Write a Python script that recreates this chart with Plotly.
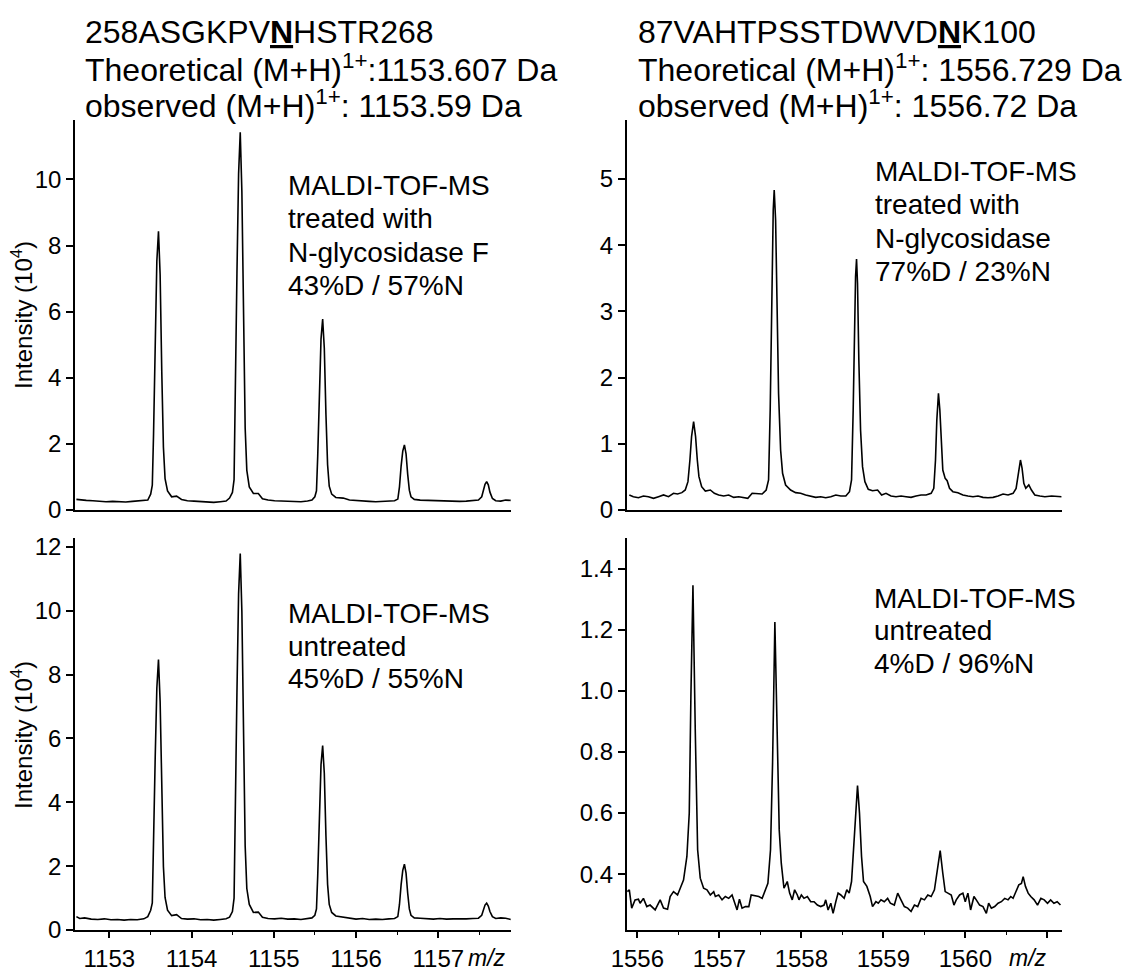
import plotly.graph_objects as go

W, H = 1133, 972
FONT = "Liberation Sans, Arial, Helvetica, sans-serif"

# ---------------- data (m/z, intensity in 10^4) ----------------
# Peptide 258ASGKPVNHSTR268, treated with N-glycosidase F
tl_spectrum = [
    (1152.600, 0.32), (1152.650, 0.30), (1152.720, 0.29), (1152.800, 0.28), (1152.880, 0.26),
    (1152.960, 0.25), (1153.040, 0.26), (1153.120, 0.25), (1153.200, 0.24), (1153.280, 0.26),
    (1153.360, 0.27), (1153.420, 0.28),
    (1153.468, 0.30), (1153.503, 0.48), (1153.523, 0.75), (1153.538, 2.30), (1153.558, 5.32),
    (1153.578, 7.53), (1153.598, 8.43), (1153.618, 7.12), (1153.638, 4.18), (1153.658, 1.90),
    (1153.678, 0.95), (1153.708, 0.58), (1153.758, 0.40), (1153.818, 0.42), (1153.878, 0.32),
    (1153.950, 0.28), (1154.030, 0.27), (1154.110, 0.25), (1154.190, 0.24), (1154.270, 0.23),
    (1154.350, 0.25), (1154.420, 0.27),
    (1154.462, 0.36), (1154.497, 0.53), (1154.517, 0.92), (1154.532, 3.04), (1154.552, 7.16),
    (1154.572, 10.17), (1154.592, 11.43), (1154.612, 9.62), (1154.632, 5.60), (1154.652, 2.48),
    (1154.672, 1.20), (1154.702, 0.70), (1154.752, 0.50), (1154.812, 0.50), (1154.862, 0.34),
    (1154.930, 0.30), (1155.010, 0.28), (1155.090, 0.27), (1155.170, 0.25), (1155.250, 0.24),
    (1155.330, 0.25), (1155.410, 0.27),
    (1155.464, 0.30), (1155.499, 0.40), (1155.519, 0.58), (1155.534, 1.63), (1155.554, 3.67),
    (1155.574, 5.17), (1155.594, 5.78), (1155.614, 4.90), (1155.634, 2.90), (1155.654, 1.37),
    (1155.674, 0.72), (1155.704, 0.48), (1155.754, 0.38), (1155.844, 0.36),
    (1155.920, 0.30), (1156.000, 0.28), (1156.080, 0.27), (1156.160, 0.26), (1156.240, 0.25),
    (1156.320, 0.26), (1156.400, 0.27),
    (1156.468, 0.28), (1156.508, 0.33), (1156.528, 0.70), (1156.548, 1.33), (1156.568, 1.78),
    (1156.588, 1.97), (1156.608, 1.70), (1156.628, 1.08), (1156.648, 0.60), (1156.668, 0.40),
    (1156.708, 0.32),
    (1156.780, 0.30), (1156.860, 0.29), (1156.940, 0.28), (1157.020, 0.27), (1157.100, 0.28),
    (1157.180, 0.27), (1157.260, 0.26), (1157.340, 0.27), (1157.420, 0.28),
    (1157.488, 0.30), (1157.528, 0.40), (1157.548, 0.58), (1157.568, 0.78), (1157.588, 0.86),
    (1157.608, 0.76), (1157.628, 0.54), (1157.658, 0.35), (1157.698, 0.28),
    (1157.760, 0.27), (1157.820, 0.30), (1157.880, 0.29),
]

# Peptide 258ASGKPVNHSTR268, untreated
bl_spectrum = [
    (1152.600, 0.42), (1152.640, 0.36), (1152.700, 0.38), (1152.780, 0.34), (1152.860, 0.33),
    (1152.940, 0.35), (1153.020, 0.32), (1153.100, 0.33), (1153.180, 0.31), (1153.260, 0.33),
    (1153.340, 0.32), (1153.420, 0.35),
    (1153.468, 0.42), (1153.503, 0.62), (1153.523, 0.85), (1153.538, 2.40), (1153.558, 5.38),
    (1153.578, 7.58), (1153.598, 8.47), (1153.618, 7.16), (1153.638, 4.24), (1153.658, 1.98),
    (1153.678, 1.02), (1153.708, 0.62), (1153.758, 0.45), (1153.818, 0.48), (1153.878, 0.36),
    (1153.950, 0.34), (1154.030, 0.35), (1154.110, 0.32), (1154.190, 0.33), (1154.270, 0.31),
    (1154.350, 0.33), (1154.420, 0.35),
    (1154.462, 0.40), (1154.497, 0.58), (1154.517, 1.00), (1154.532, 3.20), (1154.552, 7.45),
    (1154.572, 10.53), (1154.592, 11.79), (1154.612, 9.96), (1154.632, 5.84), (1154.652, 2.63),
    (1154.672, 1.30), (1154.702, 0.80), (1154.752, 0.55), (1154.812, 0.56), (1154.862, 0.40),
    (1154.930, 0.36), (1155.010, 0.35), (1155.090, 0.37), (1155.170, 0.34), (1155.250, 0.35),
    (1155.330, 0.33), (1155.410, 0.35),
    (1155.464, 0.38), (1155.499, 0.46), (1155.519, 0.66), (1155.534, 1.70), (1155.554, 3.71),
    (1155.574, 5.18), (1155.594, 5.78), (1155.614, 4.91), (1155.634, 2.95), (1155.654, 1.43),
    (1155.674, 0.80), (1155.704, 0.55), (1155.754, 0.44), (1155.844, 0.40),
    (1155.920, 0.36), (1156.000, 0.34), (1156.080, 0.36), (1156.160, 0.33), (1156.240, 0.34),
    (1156.320, 0.33), (1156.400, 0.35),
    (1156.468, 0.36), (1156.508, 0.42), (1156.528, 0.80), (1156.548, 1.42), (1156.568, 1.87),
    (1156.588, 2.06), (1156.608, 1.78), (1156.628, 1.15), (1156.648, 0.66), (1156.668, 0.46),
    (1156.708, 0.38),
    (1156.780, 0.37), (1156.860, 0.35), (1156.940, 0.34), (1157.020, 0.36), (1157.100, 0.34),
    (1157.180, 0.35), (1157.260, 0.34), (1157.340, 0.35), (1157.420, 0.36),
    (1157.488, 0.37), (1157.528, 0.46), (1157.548, 0.62), (1157.568, 0.78), (1157.588, 0.84),
    (1157.608, 0.75), (1157.628, 0.58), (1157.658, 0.42), (1157.698, 0.36),
    (1157.760, 0.38), (1157.820, 0.37), (1157.880, 0.33),
]

# Peptide 87VAHTPSSTDWVDNK100, treated with N-glycosidase
tr_spectrum = [
    (1555.902, 0.227), (1555.951, 0.201), (1556.013, 0.186), (1556.074, 0.211), (1556.135, 0.201),
    (1556.197, 0.176), (1556.258, 0.201), (1556.319, 0.227), (1556.380, 0.201), (1556.441, 0.252),
    (1556.490, 0.242), (1556.543, 0.262), (1556.584, 0.302), (1556.617, 0.428), (1556.641, 0.755),
    (1556.661, 1.108), (1556.686, 1.334), (1556.710, 1.108), (1556.731, 0.755), (1556.751, 0.504),
    (1556.784, 0.352), (1556.829, 0.287), (1556.890, 0.302), (1556.939, 0.252), (1556.992, 0.227),
    (1557.053, 0.211), (1557.114, 0.227), (1557.175, 0.191), (1557.237, 0.201), (1557.298, 0.186),
    (1557.347, 0.176), (1557.400, 0.252), (1557.461, 0.242), (1557.522, 0.242), (1557.571, 0.302),
    (1557.600, 0.453), (1557.620, 1.511), (1557.641, 3.525), (1557.657, 4.532), (1557.669, 4.834),
    (1557.686, 4.381), (1557.702, 3.223), (1557.722, 1.762), (1557.747, 0.906), (1557.771, 0.554),
    (1557.808, 0.378), (1557.869, 0.302), (1557.930, 0.262), (1557.991, 0.252), (1558.052, 0.227),
    (1558.114, 0.211), (1558.175, 0.191), (1558.236, 0.201), (1558.297, 0.186), (1558.359, 0.201),
    (1558.420, 0.227), (1558.481, 0.211), (1558.542, 0.211), (1558.587, 0.277), (1558.612, 0.453),
    (1558.632, 1.511), (1558.648, 2.769), (1558.661, 3.525), (1558.673, 3.792), (1558.685, 3.424),
    (1558.701, 2.266), (1558.722, 1.208), (1558.746, 0.655), (1558.775, 0.428), (1558.816, 0.312),
    (1558.868, 0.292), (1558.930, 0.302), (1558.979, 0.227), (1559.032, 0.252), (1559.093, 0.211),
    (1559.154, 0.201), (1559.216, 0.211), (1559.277, 0.201), (1559.338, 0.191), (1559.399, 0.211),
    (1559.460, 0.227), (1559.521, 0.227), (1559.583, 0.252), (1559.615, 0.327), (1559.636, 0.755),
    (1559.652, 1.360), (1559.672, 1.762), (1559.689, 1.511), (1559.705, 1.007), (1559.725, 0.604),
    (1559.754, 0.478), (1559.778, 0.443), (1559.807, 0.327), (1559.848, 0.277), (1559.909, 0.262),
    (1559.970, 0.227), (1560.031, 0.211), (1560.093, 0.201), (1560.154, 0.211), (1560.215, 0.191),
    (1560.276, 0.186), (1560.338, 0.191), (1560.399, 0.211), (1560.460, 0.242), (1560.521, 0.227),
    (1560.582, 0.252), (1560.619, 0.327), (1560.643, 0.554), (1560.672, 0.755), (1560.692, 0.629),
    (1560.713, 0.403), (1560.737, 0.327), (1560.774, 0.378), (1560.806, 0.302), (1560.847, 0.227),
    (1560.909, 0.211), (1560.970, 0.201), (1561.052, 0.211), (1561.133, 0.201), (1561.174, 0.201),
]

# Peptide 87VAHTPSSTDWVDNK100, untreated
br_spectrum = [
    (1555.878, 0.343), (1555.902, 0.349), (1555.931, 0.289), (1555.972, 0.316), (1556.013, 0.318),
    (1556.033, 0.305), (1556.074, 0.321), (1556.115, 0.294), (1556.155, 0.299), (1556.217, 0.283),
    (1556.278, 0.316), (1556.319, 0.289), (1556.368, 0.285), (1556.400, 0.327), (1556.441, 0.343),
    (1556.490, 0.332), (1556.523, 0.354), (1556.563, 0.381), (1556.604, 0.458), (1556.633, 0.600),
    (1556.653, 0.983), (1556.678, 1.345), (1556.706, 0.873), (1556.735, 0.480), (1556.767, 0.387),
    (1556.808, 0.354), (1556.849, 0.349), (1556.890, 0.332), (1556.931, 0.343), (1556.951, 0.327),
    (1556.992, 0.332), (1557.033, 0.316), (1557.073, 0.327), (1557.114, 0.321), (1557.155, 0.332),
    (1557.184, 0.305), (1557.216, 0.283), (1557.245, 0.318), (1557.277, 0.289), (1557.318, 0.294),
    (1557.359, 0.294), (1557.388, 0.332), (1557.441, 0.329), (1557.481, 0.327), (1557.522, 0.321),
    (1557.563, 0.349), (1557.592, 0.370), (1557.624, 0.480), (1557.649, 0.764), (1557.677, 1.225),
    (1557.706, 0.873), (1557.730, 0.545), (1557.755, 0.436), (1557.788, 0.354), (1557.828, 0.376),
    (1557.857, 0.338), (1557.889, 0.316), (1557.918, 0.349), (1557.951, 0.332), (1557.971, 0.316),
    (1558.000, 0.332), (1558.032, 0.321), (1558.073, 0.327), (1558.114, 0.310), (1558.155, 0.310),
    (1558.195, 0.299), (1558.236, 0.294), (1558.277, 0.299), (1558.297, 0.316), (1558.326, 0.283),
    (1558.359, 0.305), (1558.387, 0.272), (1558.420, 0.310), (1558.448, 0.338), (1558.481, 0.332),
    (1558.522, 0.321), (1558.554, 0.349), (1558.583, 0.338), (1558.612, 0.376), (1558.636, 0.491),
    (1558.661, 0.600), (1558.685, 0.690), (1558.709, 0.600), (1558.734, 0.458), (1558.758, 0.376),
    (1558.799, 0.360), (1558.840, 0.327), (1558.868, 0.294), (1558.909, 0.310), (1558.938, 0.305),
    (1558.971, 0.316), (1559.011, 0.310), (1559.052, 0.321), (1559.085, 0.305), (1559.134, 0.299),
    (1559.175, 0.338), (1559.215, 0.316), (1559.256, 0.294), (1559.297, 0.289), (1559.338, 0.278),
    (1559.379, 0.299), (1559.419, 0.294), (1559.460, 0.321), (1559.501, 0.316), (1559.542, 0.332),
    (1559.583, 0.327), (1559.623, 0.349), (1559.656, 0.414), (1559.693, 0.477), (1559.725, 0.403),
    (1559.754, 0.343), (1559.787, 0.338), (1559.828, 0.332), (1559.861, 0.299), (1559.889, 0.316),
    (1559.930, 0.332), (1559.970, 0.338), (1559.999, 0.310), (1560.031, 0.338), (1560.064, 0.283),
    (1560.105, 0.327), (1560.133, 0.316), (1560.174, 0.299), (1560.215, 0.294), (1560.256, 0.272),
    (1560.284, 0.305), (1560.317, 0.289), (1560.358, 0.294), (1560.399, 0.305), (1560.439, 0.310),
    (1560.480, 0.321), (1560.521, 0.316), (1560.554, 0.327), (1560.582, 0.321), (1560.623, 0.349),
    (1560.652, 0.365), (1560.684, 0.370), (1560.705, 0.392), (1560.733, 0.360), (1560.766, 0.338),
    (1560.798, 0.327), (1560.839, 0.316), (1560.880, 0.299), (1560.921, 0.321), (1560.962, 0.316),
    (1561.002, 0.305), (1561.040, 0.316), (1561.080, 0.305), (1561.120, 0.310), (1561.160, 0.299),
]

left_mz_ticks = [1153, 1154, 1155, 1156, 1157]
left_mz_minor = [1153.5, 1154.5, 1155.5, 1156.5, 1157.5]
right_mz_ticks = [1556, 1557, 1558, 1559, 1560, 1561]
right_mz_labels = ["1556", "1557", "1558", "1559", "1560", ""]
right_mz_minor = [1556.5, 1557.5, 1558.5, 1559.5, 1560.5]
tl_yticks = [0, 2, 4, 6, 8, 10]
bl_yticks = [0, 2, 4, 6, 8, 10, 12]
tr_yticks = [0, 1, 2, 3, 4, 5]
br_yticks = [0.4, 0.6, 0.8, 1.0, 1.2, 1.4]

titles_left = ["258ASGKPV<b><u>N</u></b>HSTR268",
               "Theoretical (M+H)<sup>1+</sup>:1153.607 Da",
               "observed (M+H)<sup>1+</sup>: 1153.59 Da"]
titles_right = ["87VAHTPSSTDWVD<b><u>N</u></b>K100",
                "Theoretical (M+H)<sup>1+</sup>: 1556.729 Da",
                "observed (M+H)<sup>1+</sup>: 1556.72 Da"]
text_tl = ["MALDI-TOF-MS", "treated with", "N-glycosidase F", "43%D / 57%N"]
text_tr = ["MALDI-TOF-MS", "treated with", "N-glycosidase", "77%D / 23%N"]
text_bl = ["MALDI-TOF-MS", "untreated", "45%D / 55%N"]
text_br = ["MALDI-TOF-MS", "untreated", "4%D / 96%N"]


def px(x):
    return x / W


def py(y):
    return 1 - y / H


fig = go.Figure()
for spec, xa, ya in [(tl_spectrum, "x", "y"), (tr_spectrum, "x2", "y2"),
                     (bl_spectrum, "x3", "y3"), (br_spectrum, "x4", "y4")]:
    fig.add_trace(go.Scatter(x=[p[0] for p in spec], y=[p[1] for p in spec],
                             mode="lines", line=dict(color="black", width=1.6),
                             xaxis=xa, yaxis=ya, hoverinfo="skip"))

TICKFONT = dict(family=FONT, size=24, color="black")
common = dict(showline=True, linecolor="black", linewidth=1.5, showgrid=False,
              zeroline=False, mirror=False, tickcolor="black", tickwidth=1.5,
              tickfont=TICKFONT, automargin=False)

L_X = [px(75), px(511)]
R_X = [px(626.7), px(1061.7)]
T_Y = [py(510), py(120)]
B_Y = [py(930), py(538)]
L_RANGE = [1152.583, 1157.884]
R_RANGE = [1555.87, 1561.175]

fig.update_layout(
    width=W, height=H, margin=dict(l=0, r=0, t=0, b=0, pad=0, autoexpand=False),
    paper_bgcolor="white", plot_bgcolor="white", showlegend=False,
    font=dict(family=FONT, color="black"),
    xaxis=dict(domain=L_X, range=L_RANGE, anchor="y", ticks="", showticklabels=False, **common),
    yaxis=dict(domain=T_Y, range=[0, 11.8], anchor="x", ticks="outside", ticklen=7,
               tickmode="array", tickvals=tl_yticks, **common),
    xaxis2=dict(domain=R_X, range=R_RANGE, anchor="y2", ticks="", showticklabels=False, **common),
    yaxis2=dict(domain=T_Y, range=[0, 5.89], anchor="x2", ticks="outside", ticklen=7,
                tickmode="array", tickvals=tr_yticks, **common),
    xaxis3=dict(domain=L_X, range=L_RANGE, anchor="y3", ticks="outside", ticklen=6,
                tickmode="array", tickvals=left_mz_ticks,
                minor=dict(ticks="outside", ticklen=3, tickwidth=1.2, tickcolor="black",
                           tickvals=left_mz_minor), **common),
    yaxis3=dict(domain=B_Y, range=[0, 12.28], anchor="x3", ticks="outside", ticklen=7,
                tickmode="array", tickvals=bl_yticks, **common),
    xaxis4=dict(domain=R_X, range=R_RANGE, anchor="y4", ticks="outside", ticklen=6,
                tickmode="array", tickvals=right_mz_ticks, ticktext=right_mz_labels,
                minor=dict(ticks="outside", ticklen=3, tickwidth=1.2, tickcolor="black",
                           tickvals=right_mz_minor), **common),
    yaxis4=dict(domain=B_Y, range=[0.2174, 1.50], anchor="x4", ticks="outside", ticklen=7,
                tickmode="array", tickvals=br_yticks, tickformat=".1f", **common),
)

ann = []


def add_text(text, x, y, size, xanchor="left", angle=0):
    ann.append(dict(text=text, x=px(x), y=py(y), xref="paper", yref="paper",
                    xanchor=xanchor, yanchor="middle", showarrow=False, textangle=angle,
                    font=dict(family=FONT, size=size, color="black")))


TITLE_SIZE = 32
for i, t in enumerate(titles_left):
    add_text(t, 83, 32 + 36 * i, TITLE_SIZE)
for i, t in enumerate(titles_right):
    add_text(t, 635.5, 32 + 36 * i, TITLE_SIZE)

PS = 28
for i, t in enumerate(text_tl):
    add_text(t, 285.7, 185.5 + 33.3 * i, PS)
for i, t in enumerate(text_tr):
    add_text(t, 872.7, 171.5 + 33.3 * i, PS)
for i, t in enumerate(text_bl):
    add_text(t, 285.7, 613.8 + 32.5 * i, PS)
for i, t in enumerate(text_br):
    add_text(t, 871.7, 598.1 + 32.8 * i, PS)

ylab = "Intensity (10<sup>4</sup>)"
add_text(ylab, 22, 315, 24, xanchor="center", angle=-90)
add_text(ylab, 22, 735, 24, xanchor="center", angle=-90)

add_text("<i>m/z</i>", 487, 958, 23, xanchor="center")
add_text("<i>m/z</i>", 1028, 958, 23, xanchor="center")

fig.update_layout(annotations=ann)
fig.write_html("out.html",
               config={"displayModeBar": False},
               post_script="document.body.style.margin='0px';"
                           "document.body.style.padding='0px';"
                           "document.body.style.overflow='hidden';")
